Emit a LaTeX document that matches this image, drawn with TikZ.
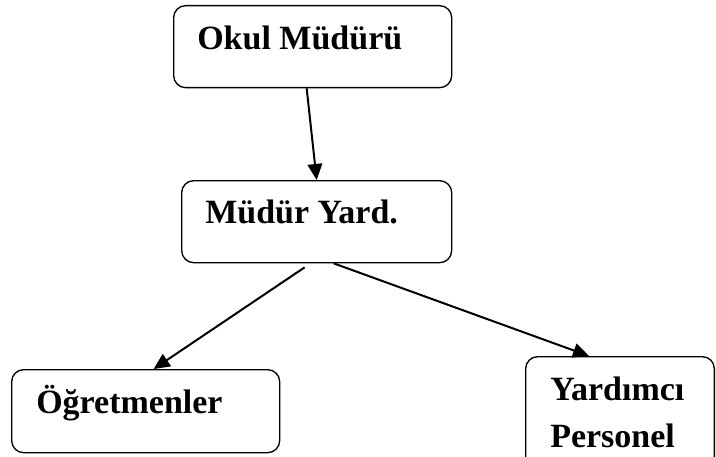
\documentclass[tikz,border=0pt]{standalone}
\usepackage{fontspec}
\setmainfont{Liberation Serif}
\usetikzlibrary{arrows.meta}

\tikzset{
    birim/.style={draw,line width=1pt,rounded corners=9pt,inner sep=0pt,anchor=north west},
    etiket/.style={font=\fontsize{25.5}{35}\selectfont\bfseries,inner sep=0pt,anchor=base west,align=left},
    ok/.style={-{Triangle[length=12pt,width=11pt]},line width=1.5pt}
}

\begin{document}
\begin{tikzpicture}[x=0.75pt,y=-0.75pt]
        \useasboundingbox (0,0) rectangle (716,456);

        \node[birim,minimum width=208.5pt,minimum height=61.5pt](mudur)at(173,5){};
        \node[birim,minimum width=202.5pt,minimum height=61.5pt](yard)at(181,180){};
        \node[birim,minimum width=201pt,minimum height=62.25pt](ogret)at(11,369){};
        \node[birim,minimum width=141.5pt,minimum height=90pt](personel)at(525,356){};

        \node[etiket](mudurtxt)at(197,50){Okul Müdürü};
        \node[etiket](yardtxt)at(205,223){Müdür Yard.};
        \node[etiket](ogrettxt)at(36,413){Öğretmenler};
        \node[etiket](personeltxt)at(550,447){Yardımcı\\Personel};

        \draw[ok]([xshift=-4.5pt]mudur.south)--(yard.north);
        \draw[ok]([xshift=-9pt,yshift=-3pt]yard.south)--([xshift=6pt]ogret.north);
        \draw[ok]([xshift=12.75pt]yard.south)--([xshift=48pt]personel.north west);
    \end{tikzpicture}
\end{document}
